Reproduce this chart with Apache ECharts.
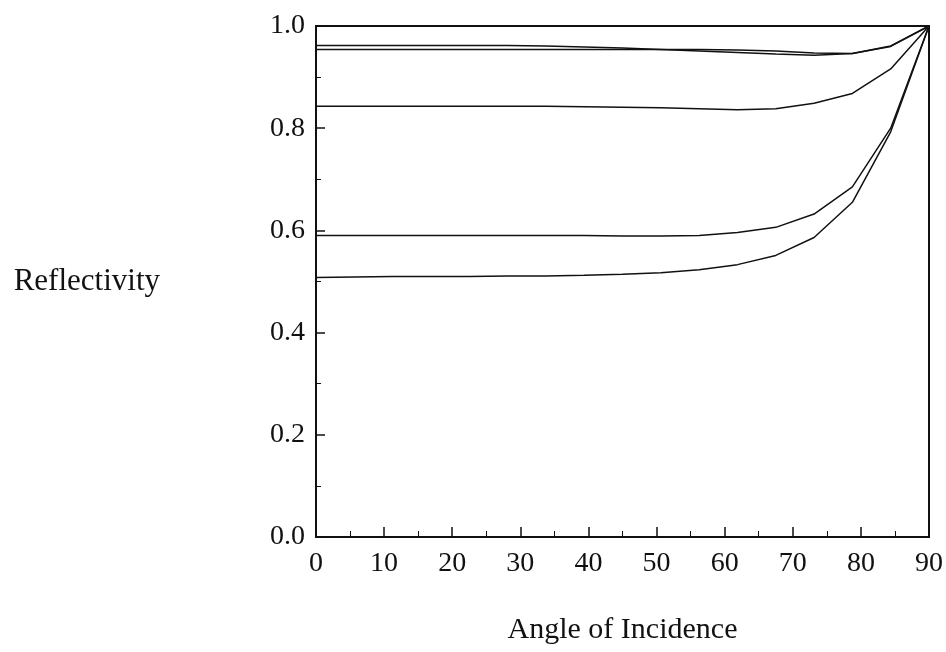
<!DOCTYPE html>
<html>
<head>
<meta charset="utf-8">
<script src="https://cdn.jsdelivr.net/npm/echarts@6/dist/echarts.min.js"></script>
<style>
html, body { margin: 0; padding: 0; background: #fff; }
#chart-panel { width: 946px; height: 652px; }
</style>
</head>
<body>
<div id="chart-panel"></div>
<script>
// angles of incidence (degrees) where the curves were sampled
var angles = [0, 5.625, 11.25, 16.875, 22.5, 28.125, 33.75, 39.375, 45,
    50.625, 56.25, 61.875, 67.5, 73.125, 78.75, 84.375, 90];

// reflectivity curves, top to bottom
var reflA = [0.962, 0.962, 0.962, 0.962, 0.962, 0.962, 0.961, 0.959, 0.957,
    0.954, 0.951, 0.948, 0.945, 0.943, 0.946, 0.960, 1.0];
var reflB = [0.954, 0.954, 0.954, 0.954, 0.954, 0.954, 0.954, 0.954, 0.954,
    0.954, 0.954, 0.953, 0.951, 0.947, 0.946, 0.961, 1.0];
var reflC = [0.843, 0.843, 0.843, 0.843, 0.843, 0.843, 0.843, 0.842, 0.841,
    0.840, 0.838, 0.836, 0.838, 0.849, 0.868, 0.916, 1.0];
var reflD = [0.590, 0.590, 0.590, 0.590, 0.590, 0.590, 0.590, 0.590, 0.589,
    0.589, 0.590, 0.596, 0.606, 0.632, 0.685, 0.800, 1.0];
var reflE = [0.508, 0.509, 0.510, 0.510, 0.510, 0.511, 0.511, 0.512, 0.514,
    0.517, 0.523, 0.533, 0.551, 0.586, 0.655, 0.793, 1.0];

var curves = [reflA, reflB, reflC, reflD, reflE];

var font = '"Liberation Serif", "DejaVu Serif", serif';
var ink = '#111';

function pairs(ys) {
    return angles.map(function (a, i) { return [a, ys[i]]; });
}

var option = {
    animation: false,
    backgroundColor: '#fff',
    grid: {
        left: 316,
        right: 15,
        top: 26,
        bottom: 115,
        show: true,
        borderColor: ink,
        borderWidth: 2
    },
    xAxis: {
        type: 'value',
        min: 0,
        max: 90,
        interval: 10,
        name: 'Angle of Incidence',
        nameLocation: 'middle',
        nameGap: 78,
        nameTextStyle: { fontFamily: font, fontSize: 30, color: ink },
        axisLine: { show: true, lineStyle: { color: ink, width: 2 } },
        axisTick: { show: true, inside: true, length: 10, lineStyle: { color: ink, width: 1.5 } },
        minorTick: { show: true, splitNumber: 2, length: 6, lineStyle: { color: ink, width: 1 } },
        splitLine: { show: false },
        axisLabel: { fontFamily: font, fontSize: 28, color: ink, margin: 13 }
    },
    yAxis: {
        type: 'value',
        min: 0,
        max: 1,
        interval: 0.2,
        name: 'Reflectivity',
        nameLocation: 'middle',
        nameRotate: 0,
        nameGap: 156,
        nameTextStyle: { fontFamily: font, fontSize: 31, color: ink, align: 'right', verticalAlign: 'middle' },
        axisLine: { show: true, lineStyle: { color: ink, width: 2 } },
        axisTick: { show: true, inside: true, length: 9, lineStyle: { color: ink, width: 1.5 } },
        minorTick: { show: true, splitNumber: 2, length: 5, lineStyle: { color: ink, width: 1 } },
        splitLine: { show: false },
        axisLabel: {
            fontFamily: font, fontSize: 28, color: ink, margin: 11,
            formatter: function (v) { return v.toFixed(1); }
        }
    },
    series: curves.map(function (ys) {
        return {
            type: 'line',
            data: pairs(ys),
            showSymbol: false,
            symbol: 'none',
            smooth: false,
            lineStyle: { color: ink, width: 1.5 }
        };
    })
};

var chart = echarts.init(document.getElementById('chart-panel'));
chart.setOption(option);
</script>
</body>
</html>
